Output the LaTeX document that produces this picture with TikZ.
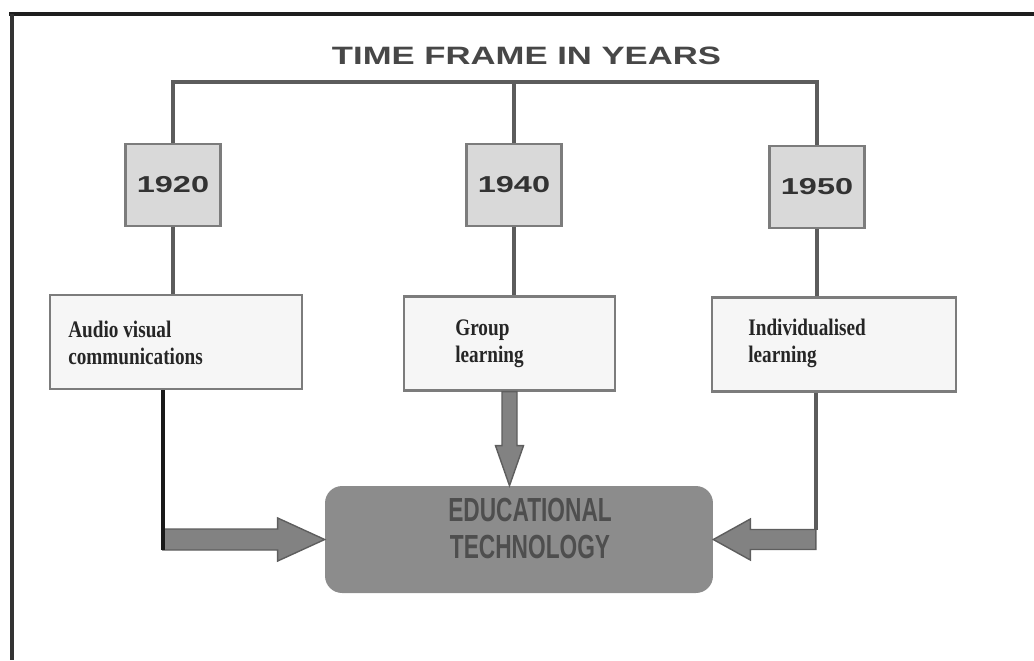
\documentclass[tikz,border=0pt]{standalone}
\usepackage{fontspec}
\setmainfont{Liberation Serif}
\setsansfont{Liberation Sans}
\usepackage{graphicx}
\usetikzlibrary{positioning}
\usetikzlibrary{calc}

\definecolor{framegray}{HTML}{1E1E1E}
\definecolor{linegray}{HTML}{5C5C5C}
\definecolor{yearfill}{HTML}{D9D9D9}
\definecolor{boxedge}{HTML}{7C7C7C}
\definecolor{lowfill}{HTML}{F6F6F6}
\definecolor{techfill}{HTML}{8C8C8C}
\definecolor{techtext}{HTML}{4E4E4E}
\definecolor{arrowfill}{HTML}{828282}
\definecolor{arrowedge}{HTML}{5E5E5E}
\newcommand{\wide}[2]{\scalebox{#1}[1]{#2}}
\newcommand{\twolines}[2]{\wide{0.81}{\begin{tabular}[b]{@{}l@{}}#1\\#2\end{tabular}}}

\begin{document}
\begin{tikzpicture}[x=0.02cm, y=-0.02cm,
	frame/.style={draw=framegray, line width=2.3pt},
	link/.style={draw=linegray, line width=2.3pt},
	yearbox/.style={draw=boxedge, line width=1.6pt, fill=yearfill, minimum width=1.9cm, minimum height=1.64cm, inner sep=0pt,
		font=\sffamily\bfseries\fontsize{13.1}{15}\selectfont, text=black!80},
	lowbox/.style={draw=boxedge, line width=1.3pt, fill=lowfill, minimum height=1.88cm, inner sep=0pt},
	lowtext/.style={inner sep=0pt, anchor=base west, font=\bfseries\fontsize{13.5}{15.2}\selectfont, text=black!85},
	techbox/.style={fill=techfill, rounded corners=0.34cm, minimum width=7.76cm, minimum height=2.14cm, inner sep=0pt},
	blockarrow/.style={fill=arrowfill, draw=arrowedge, line width=0.8pt, line join=miter}]

	\useasboundingbox (0,0) rectangle (1034,660);

	% ---------------------
	% Outer frame
	\draw[frame] (9,14) -- (1034,14);
	\draw[frame, draw=black!80] (12,14) -- (12,660);

	% ---------------------
	% Title & years
	\node[inner sep=0pt, text=black!72, font=\sffamily\bfseries\fontsize{14.3}{16}\selectfont] (Title) at (526.5,56)
		{\wide{1.38}{TIME FRAME IN YEARS}};

	\node[yearbox] (Y1920) at (173,185) {\wide{1.41}{1920}};
	\node[yearbox] (Y1940) at (514,185) {\wide{1.41}{1940}};
	\node[yearbox] (Y1950) at (817,187) {\wide{1.41}{1950}};

	\coordinate (Bracket) at (512,82);

	% ---------------------
	% Kinds of learning
	\node[lowbox, minimum width=5.04cm] (Audio) at (176,342) {};
	\node[lowbox, minimum width=4.22cm] (Group) at (509.5,343.5) {};
	\node[lowbox, minimum width=4.88cm] (Indiv) at (834,344.5) {};

	\node[lowtext] (AudioText) at (68,364) {\twolines{Audio visual}{communications}};
	\node[lowtext] (GroupText) at (455,362) {\twolines{Group}{learning}};
	\node[lowtext] (IndivText) at (748,362) {\twolines{Individualised}{learning}};

	% ---------------------
	% Educational technology
	\node[techbox] (EduTech) at (519,539.5) {};
	\node[inner sep=0pt, text=techtext, font=\sffamily\bfseries\fontsize{19}{21}\selectfont] (EduText) at (530,533)
		{\wide{0.68}{\begin{tabular}{@{}c@{}}EDUCATIONAL\\TECHNOLOGY\end{tabular}}};

	% ------------------------------------------------
	% Bracket & drops
	\draw[link] (Y1920.north) -- (Y1920.north |- Bracket) -- (Y1950.north |- Bracket) -- (Y1950.north);
	\draw[link] (Y1940.north) -- (Y1940.north |- Bracket);

	\draw[link] (Y1920.south) -- (Y1920.south |- Audio.north);
	\draw[link] (Y1940.south) -- (Y1940.south |- Group.north);
	\draw[link] (Y1950.south) -- (Y1950.south |- Indiv.north);

	% ------------------------------------------------
	% Block arrows
	\path (Audio.south west) ++(114,0) coordinate (AudioOut);
	\coordinate (AudioTip) at (EduTech.west);
	\coordinate (AudioBend) at (AudioOut |- AudioTip);
	\draw[blockarrow] ($(AudioBend)+(0,-10.5)$) -- ($(AudioTip)+(-47,-10.5)$) -- ($(AudioTip)+(-47,-21.5)$)
		-- (AudioTip) -- ($(AudioTip)+(-47,21.5)$) -- ($(AudioTip)+(-47,10.5)$) -- ($(AudioBend)+(0,10.5)$) -- cycle;
	\draw[link, draw=black!90] (AudioOut) -- ($(AudioBend)+(0,10.5)$);

	\coordinate (GroupOut) at (Group.south);
	\coordinate (GroupTip) at (GroupOut |- EduTech.north);
	\draw[blockarrow] ($(GroupOut)+(-7.5,0)$) -- ($(GroupTip)+(-7.5,-40)$) -- ($(GroupTip)+(-14,-40)$)
		-- (GroupTip) -- ($(GroupTip)+(14,-40)$) -- ($(GroupTip)+(7.5,-40)$) -- ($(GroupOut)+(7.5,0)$) -- cycle;

	\path (Indiv.south west) ++(105,0) coordinate (IndivOut);
	\coordinate (IndivTip) at (EduTech.east);
	\coordinate (IndivBend) at (IndivOut |- IndivTip);
	\draw[blockarrow] ($(IndivBend)+(0,-10)$) -- ($(IndivTip)+(37,-10)$) -- ($(IndivTip)+(37,-20.5)$)
		-- (IndivTip) -- ($(IndivTip)+(37,20.5)$) -- ($(IndivTip)+(37,10)$) -- ($(IndivBend)+(0,10)$) -- cycle;
	\draw[link] (IndivOut) -- ($(IndivBend)+(0,-10)$);

\end{tikzpicture}
\end{document}
